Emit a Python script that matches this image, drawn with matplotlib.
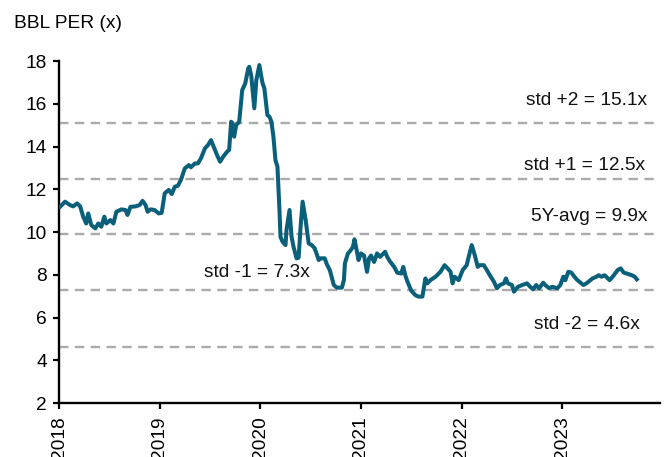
import matplotlib.pyplot as plt

plt.rcParams['font.family'] = ['Liberation Sans', 'DejaVu Sans']

# BBL price/earnings ratio (decimal year, PER)
years = [
    2018.01, 2018.06, 2018.11, 2018.14, 2018.18, 2018.21, 2018.24, 2018.27, 2018.29, 2018.32,
    2018.36, 2018.39, 2018.42, 2018.45, 2018.47, 2018.51, 2018.54, 2018.57, 2018.62, 2018.66,
    2018.68, 2018.71, 2018.76, 2018.80, 2018.83, 2018.86, 2018.88, 2018.91, 2018.95, 2018.99,
    2019.02, 2019.05, 2019.09, 2019.12, 2019.15, 2019.18, 2019.21, 2019.25, 2019.29, 2019.31,
    2019.35, 2019.38, 2019.41, 2019.45, 2019.48, 2019.51, 2019.53, 2019.57, 2019.60, 2019.63,
    2019.67, 2019.69, 2019.71, 2019.72, 2019.74, 2019.76, 2019.79, 2019.82, 2019.85, 2019.88,
    2019.89, 2019.91, 2019.94, 2019.96, 2019.99, 2020.02, 2020.04, 2020.07, 2020.09, 2020.11,
    2020.13, 2020.15, 2020.17, 2020.19, 2020.20, 2020.22, 2020.25, 2020.26, 2020.29, 2020.31,
    2020.33, 2020.36, 2020.38, 2020.40, 2020.42, 2020.45, 2020.48, 2020.51, 2020.54, 2020.58,
    2020.60, 2020.64, 2020.66, 2020.69, 2020.73, 2020.76, 2020.81, 2020.83, 2020.84, 2020.87,
    2020.89, 2020.92, 2020.935, 2020.96, 2020.975, 2021.00, 2021.03, 2021.06, 2021.08, 2021.10,
    2021.13, 2021.16, 2021.19, 2021.24, 2021.26, 2021.29, 2021.33, 2021.36, 2021.40, 2021.42,
    2021.44, 2021.46, 2021.50, 2021.54, 2021.57, 2021.61, 2021.64, 2021.66, 2021.69, 2021.74,
    2021.79, 2021.83, 2021.86, 2021.89, 2021.91, 2021.93, 2021.97, 2022.01, 2022.05, 2022.07,
    2022.10, 2022.13, 2022.16, 2022.18, 2022.22, 2022.25, 2022.28, 2022.32, 2022.35, 2022.38,
    2022.42, 2022.44, 2022.46, 2022.50, 2022.52, 2022.56, 2022.60, 2022.65, 2022.68, 2022.71,
    2022.74, 2022.77, 2022.81, 2022.83, 2022.87, 2022.90, 2022.95, 2022.98, 2023.01, 2023.03,
    2023.06, 2023.09, 2023.12, 2023.15, 2023.21, 2023.24, 2023.30, 2023.34, 2023.36, 2023.39,
    2023.42, 2023.47, 2023.50, 2023.55, 2023.58, 2023.61, 2023.64, 2023.69, 2023.72, 2023.74,
]
per = [
    11.18, 11.42, 11.26, 11.20, 11.34, 11.20, 10.72, 10.40, 10.87, 10.33,
    10.17, 10.40, 10.25, 10.72, 10.40, 10.56, 10.40, 10.95, 11.06, 11.03,
    10.80, 11.18, 11.20, 11.26, 11.46, 11.26, 10.95, 11.06, 11.03, 10.87,
    10.90, 11.81, 11.97, 11.78, 12.12, 12.16, 12.43, 12.98, 13.13, 13.03,
    13.21, 13.21, 13.45, 13.92, 14.07, 14.30, 14.07, 13.60, 13.29, 13.52,
    13.76, 13.84, 15.16, 15.10, 14.46, 15.00, 15.16, 16.64, 16.95, 17.66,
    17.73, 17.30, 15.79, 17.10, 17.81, 17.00, 16.72, 15.47, 15.40, 15.16,
    14.46, 13.37, 13.06, 11.03, 9.78, 9.55, 9.39, 10.10, 11.03, 9.78,
    9.30, 8.77, 8.80, 10.25, 11.42, 10.56, 9.47, 9.39, 9.24, 8.69,
    8.77, 8.77, 8.50, 8.22, 7.52, 7.40, 7.40, 7.75, 8.53, 9.00,
    9.10, 9.30, 9.66, 9.08, 8.69, 9.00, 8.90, 8.14, 8.77, 8.90,
    8.60, 9.00, 8.84, 9.08, 8.84, 8.61, 8.37, 8.10, 8.06, 8.37,
    7.98, 7.70, 7.25, 7.05, 6.98, 6.98, 7.83, 7.60, 7.75, 7.91,
    8.14, 8.45, 8.30, 8.14, 7.60, 7.91, 7.75, 8.22, 8.45, 8.84,
    9.39, 8.92, 8.37, 8.45, 8.45, 8.22, 7.98, 7.68, 7.37, 7.52,
    7.60, 7.83, 7.60, 7.52, 7.21, 7.44, 7.52, 7.60, 7.44, 7.32,
    7.52, 7.37, 7.63, 7.52, 7.37, 7.44, 7.37, 7.52, 7.91, 7.75,
    8.14, 8.10, 7.91, 7.75, 7.52, 7.60, 7.83, 7.91, 7.98, 7.91,
    7.98, 7.75, 7.91, 8.22, 8.30, 8.10, 8.06, 7.98, 7.91, 7.79,
]

# valuation bands
band_values = [15.1, 12.5, 9.9, 7.3, 4.6]
band_labels = ['std +2 = 15.1x', 'std +1 = 12.5x', '5Y-avg = 9.9x', 'std -1 = 7.3x', 'std -2 = 4.6x']
label_x = [2023.845, 2023.825, 2023.845, 2020.495, 2023.775]
label_y = [16.17, 13.13, 10.75, 8.10, 5.68]

tick_years = [2018, 2019, 2020, 2021, 2022, 2023]

fs = 13.8

fig = plt.figure(figsize=(6.64, 4.57), dpi=100)
ax = fig.add_axes([0.0889, 0.118, 0.905, 0.7485])

for v in band_values:
    ax.axhline(v, color='#ABABAB', lw=1.7, dashes=(4.0, 2.7), zorder=1)
for x, y, s in zip(label_x, label_y, band_labels):
    ax.text(x, y, s, ha='right', va='center', fontsize=fs, color='#111111')

ax.plot(years, per, color='#0A5F7B', lw=2.9, solid_joinstyle='round', zorder=3)

ax.set_xlim(2018, 2023.97)
ax.set_ylim(2, 18)
ax.set_yticks(range(2, 19, 2))
ax.set_xticks(tick_years)
ax.set_xticklabels([str(y) for y in tick_years], rotation=90)
ax.tick_params(labelsize=fs, width=1.6, length=4.5, colors='black')
ax.tick_params(axis='x', pad=5)
ax.tick_params(axis='y', pad=4)

for side in ['top', 'right']:
    ax.spines[side].set_visible(False)
for side in ['left', 'bottom']:
    ax.spines[side].set_linewidth(1.7)

fig.text(14 / 664, 1 - 24 / 457, 'BBL PER (x)', fontsize=fs, va='center', ha='left')

fig.savefig('out.png', dpi=100)
